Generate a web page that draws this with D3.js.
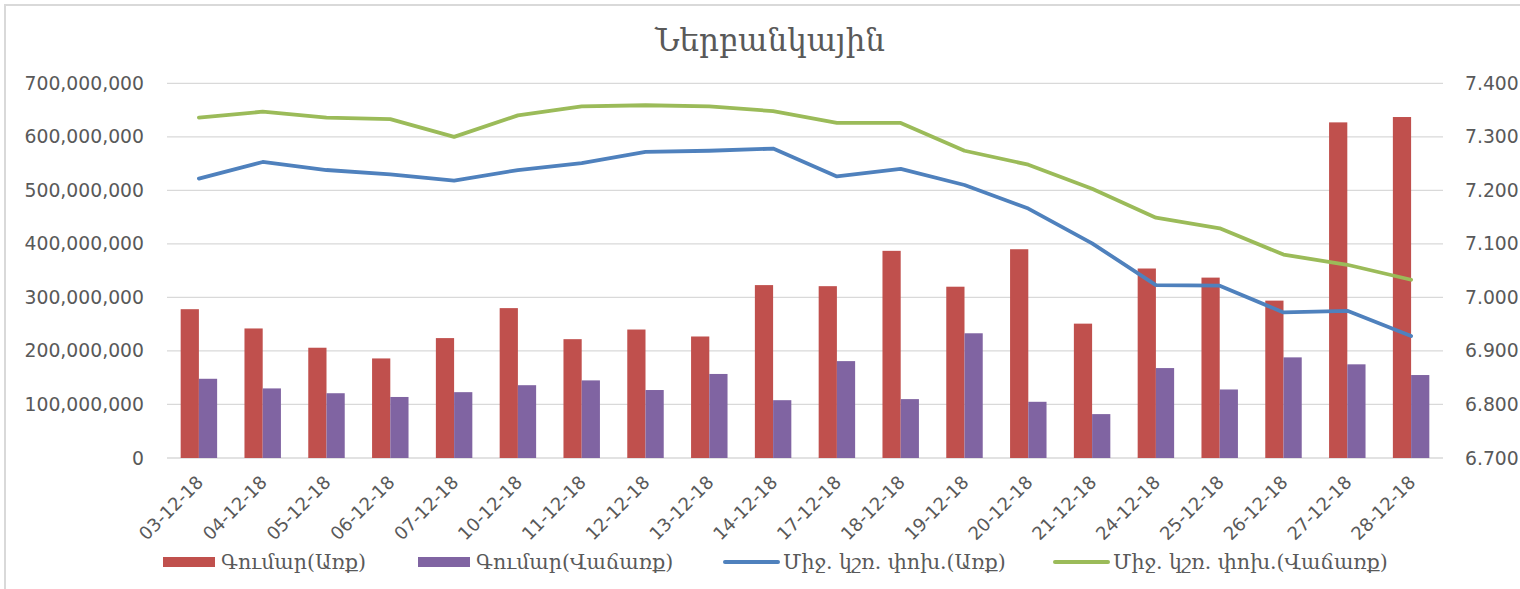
<!DOCTYPE html>
<html>
<head>
<meta charset="utf-8">
<script src="https://cdn.jsdelivr.net/npm/d3@7"></script>
<style>
  body { margin: 0; background: #fff; }
  .axis-label { font-family: "DejaVu Sans", sans-serif; fill: #595959; }
  .arm { font-family: "DejaVu Serif", "DejaVu Sans", serif; fill: #595959; }
</style>
</head>
<body>
<div id="chart"></div>
<script>
// chart data
var dates = ["03-12-18","04-12-18","05-12-18","06-12-18","07-12-18","10-12-18","11-12-18",
             "12-12-18","13-12-18","14-12-18","17-12-18","18-12-18","19-12-18","20-12-18",
             "21-12-18","24-12-18","25-12-18","26-12-18","27-12-18","28-12-18"];

// amounts (left axis)
var buyAmount  = [278e6, 242e6, 206e6, 186e6, 224e6, 280e6, 222e6, 240e6, 227e6, 323e6,
                  321e6, 387e6, 320e6, 390e6, 251e6, 354e6, 337e6, 294e6, 627e6, 637e6];
var sellAmount = [148e6, 130e6, 121e6, 114e6, 123e6, 136e6, 145e6, 127e6, 157e6, 108e6,
                  181e6, 110e6, 233e6, 105e6, 82e6, 168e6, 128e6, 188e6, 175e6, 155e6];

// average rates (right axis)
var buyRate  = [7.222, 7.253, 7.238, 7.230, 7.218, 7.238, 7.251, 7.272, 7.274, 7.278,
                7.226, 7.240, 7.210, 7.166, 7.101, 7.023, 7.022, 6.972, 6.975, 6.928];
var sellRate = [7.336, 7.347, 7.336, 7.333, 7.300, 7.340, 7.357, 7.359, 7.357, 7.348,
                7.326, 7.326, 7.274, 7.248, 7.203, 7.149, 7.129, 7.080, 7.061, 7.033];

var leftTicks  = [0, 100e6, 200e6, 300e6, 400e6, 500e6, 600e6, 700e6];
var rightTicks = [6.7, 6.8, 6.9, 7.0, 7.1, 7.2, 7.3, 7.4];

var chartTitle  = "Ներբանկային";
var seriesNames = ["Գումար(Առք)", "Գումար(Վաճառք)", "Միջ. կշռ. փոխ.(Առք)", "Միջ. կշռ. փոխ.(Վաճառք)"];
var colors      = ["#c0504d", "#8064a2", "#4f81bd", "#9bbb59"];

function ComboChart(){
  var w = 1520, h = 589;
  var margin = {top: 83.3, right: 77, bottom: 131, left: 167};

  function my(selection){
    selection.each(function(){
      var width = w - margin.left - margin.right,
          height = h - margin.top - margin.bottom;

      var svg = d3.select(this).append("svg")
          .attr("width", w)
          .attr("height", h);

      // outer frame of the chart
      svg.append("rect")
          .attr("x", 5).attr("y", 5)
          .attr("width", w + 20).attr("height", h + 20)
          .attr("fill", "none")
          .attr("stroke", "#d9d9d9")
          .attr("stroke-width", 2);

      svg.append("text")
          .attr("class", "arm")
          .attr("x", 770).attr("y", 51)
          .attr("text-anchor", "middle")
          .style("font-size", "31px")
          .text(chartTitle);

      var g = svg.append("g")
          .attr("transform", "translate(" + margin.left + "," + margin.top + ")");

      // scales
      var x = d3.scaleBand().domain(dates).range([0, width]).padding(0);
      var groupW = x.bandwidth() * 2 / 3.5;
      var xs = d3.scaleBand().domain([0, 1])
          .range([(x.bandwidth() - groupW) / 2, (x.bandwidth() + groupW) / 2]);
      var yL = d3.scaleLinear().domain([0, 700e6]).range([height, 0]);
      var yR = d3.scaleLinear().domain([6.7, 7.4]).range([height, 0]);

      // gridlines
      g.selectAll(".grid")
          .data(leftTicks)
        .enter().append("line")
          .attr("x1", 0).attr("x2", width)
          .attr("y1", function(d){ return yL(d); })
          .attr("y2", function(d){ return yL(d); })
          .attr("stroke", "#d9d9d9")
          .attr("stroke-width", 1.3);

      // left axis
      var left = g.append("g")
          .call(d3.axisLeft(yL).tickValues(leftTicks).tickFormat(d3.format(",")).tickSize(0).tickPadding(23));
      left.select(".domain").remove();
      left.selectAll("text").attr("class", "axis-label").style("font-size", "18.8px").attr("fill", null);

      // right axis
      var right = g.append("g")
          .attr("transform", "translate(" + width + ",0)")
          .call(d3.axisRight(yR).tickValues(rightTicks).tickFormat(d3.format(".3f")).tickSize(0).tickPadding(22));
      right.select(".domain").remove();
      right.selectAll("text").attr("class", "axis-label").style("font-size", "18.8px").attr("fill", null);

      // bars
      var amounts = [buyAmount, sellAmount];
      amounts.forEach(function(vals, k){
        g.selectAll(".bar" + k)
            .data(vals)
          .enter().append("rect")
            .attr("x", function(d, i){ return x(dates[i]) + xs(k); })
            .attr("width", xs.bandwidth())
            .attr("y", function(d){ return yL(d); })
            .attr("height", function(d){ return height - yL(d); })
            .attr("fill", colors[k]);
      });

      // lines
      var line = d3.line()
          .x(function(d, i){ return x(dates[i]) + x.bandwidth() / 2; })
          .y(function(d){ return yR(d); });
      [buyRate, sellRate].forEach(function(vals, k){
        g.append("path")
            .datum(vals)
            .attr("d", line)
            .attr("fill", "none")
            .attr("stroke", colors[k + 2])
            .attr("stroke-width", 3.8)
            .attr("stroke-linejoin", "round")
            .attr("stroke-linecap", "round");
      });

      // x labels, rotated
      g.selectAll(".xlab")
          .data(dates)
        .enter().append("text")
          .attr("class", "axis-label")
          .style("font-size", "18px")
          .attr("text-anchor", "end")
          .attr("dy", "0.35em")
          .attr("transform", function(d){
            return "translate(" + (x(d) + x.bandwidth() / 2 + 1) + "," + (height + 21) + ") rotate(-45)";
          })
          .text(function(d){ return d; });

      // legend
      var legendX = [163, 418, 725, 1055];
      var leg = svg.selectAll(".legend")
          .data(seriesNames)
        .enter().append("g")
          .attr("transform", function(d, i){ return "translate(" + legendX[i] + ",562)"; });
      leg.filter(function(d, i){ return i < 2; }).append("rect")
          .attr("x", 0).attr("y", -5)
          .attr("width", 52).attr("height", 10)
          .attr("fill", function(d, i){ return colors[i]; });
      leg.filter(function(d, i){ return i >= 2; }).append("line")
          .attr("x1", 0).attr("x2", 53)
          .attr("stroke", function(d, i){ return colors[i + 2]; })
          .attr("stroke-width", 4)
          .attr("stroke-linecap", "round");
      leg.append("text")
          .attr("class", "arm")
          .attr("x", 58)
          .attr("dy", "0.35em")
          .style("font-size", "20.5px")
          .text(function(d){ return d; });
    });
  }

  my.width = function(value){
    if(!arguments.length) return w;
    w = value;
    return my;
  }

  my.height = function(value){
    if(!arguments.length) return h;
    h = value;
    return my;
  }

  return my;
}

d3.select("#chart").call(ComboChart().width(1520).height(589));
</script>
</body>
</html>
